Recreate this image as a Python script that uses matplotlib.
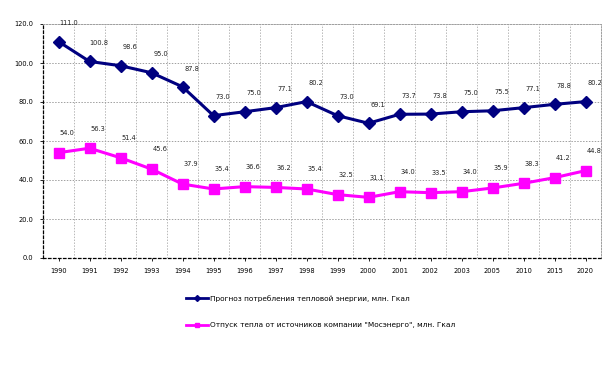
import matplotlib
matplotlib.use("Agg")
import matplotlib.pyplot as plt
import numpy as np

years = ["1990", "1991", "1992", "1993", "1994", "1995", "1996", "1997", "1998",
         "1999", "2000", "2001", "2002", "2003", "2005", "2010", "2015", "2020"]
forecast = [111.0, 100.8, 98.6, 95.0, 87.8, 73.0, 75.0, 77.1, 80.2,
            73.0, 69.1, 73.7, 73.8, 75.0, 75.5, 77.1, 78.8, 80.2]
supply = [54.0, 56.3, 51.4, 45.6, 37.9, 35.4, 36.6, 36.2, 35.4,
          32.5, 31.1, 34.0, 33.5, 34.0, 35.9, 38.3, 41.2, 44.8]
label_forecast = "Прогноз потребления тепловой энергии, млн. Гкал"
label_supply = "Отпуск тепла от источников компании \"Мосэнерго\", млн. Гкал"
yticks = [0, 20, 40, 60, 80, 100, 120]

plt.rcParams['font.family'] = ['DejaVu Sans']
fig = plt.figure(figsize=(6.04, 3.88), dpi=100)
ax = fig.add_axes([43/604, 1-258/388, 558/604, 234/388])

x = np.arange(len(years))
blue = "#000080"
mag = "#FF00FF"
ax.plot(x, forecast, color=blue, lw=2.2, marker="D", ms=6, mec=blue, mfc=blue,
        label=label_forecast, zorder=3)
ax.plot(x, supply, color=mag, lw=2.2, marker="s", ms=6.5, mec=mag, mfc=mag,
        label=label_supply, zorder=3)

for xi, v in zip(x, forecast):
    ax.annotate(f"{v:.1f}", (xi, v), xytext=(7, 11), textcoords="offset points",
                ha="center", va="bottom", fontsize=4.8, color="#222222")
for xi, v in zip(x, supply):
    ax.annotate(f"{v:.1f}", (xi, v), xytext=(6, 12), textcoords="offset points",
                ha="center", va="bottom", fontsize=4.8, color="#222222")

ax.set_xlim(-0.5, len(years) - 0.5)
ax.set_ylim(0, 120)
ax.set_yticks(yticks)
ax.set_yticklabels([f"{t:.1f}" for t in yticks], fontsize=4.8)
ax.set_xticks(x)
ax.set_xticklabels(years, fontsize=4.8)
ax.set_xticks(np.arange(len(years) + 1) - 0.5, minor=True)
ax.tick_params(axis="x", which="minor", length=0)
ax.tick_params(axis="both", which="major", length=2, width=0.6, pad=5)

ax.grid(True, axis="y", which="major", color="#a0a0a0", ls=(0, (1.5, 1.5)), lw=0.7)
ax.grid(True, axis="x", which="minor", color="#b8b8b8", ls=(0, (1.5, 1.5)), lw=0.7)

for s in ["left", "bottom"]:
    ax.spines[s].set_linestyle((0, (2, 2)))
    ax.spines[s].set_color("black")
    ax.spines[s].set_linewidth(0.9)
for s in ["top", "right"]:
    ax.spines[s].set_linestyle((0, (1.5, 1.5)))
    ax.spines[s].set_color("#a0a0a0")
    ax.spines[s].set_linewidth(0.7)

leg = fig.legend(loc="upper left", bbox_to_anchor=(182/604, 1-291/388), frameon=False,
                 fontsize=5.3, handlelength=3.0, handletextpad=0.3, labelspacing=2.8,
                 markerscale=0.5, borderpad=0)
for line in leg.get_lines():
    line.set_linewidth(2)

fig.savefig("out.png", dpi=100)
